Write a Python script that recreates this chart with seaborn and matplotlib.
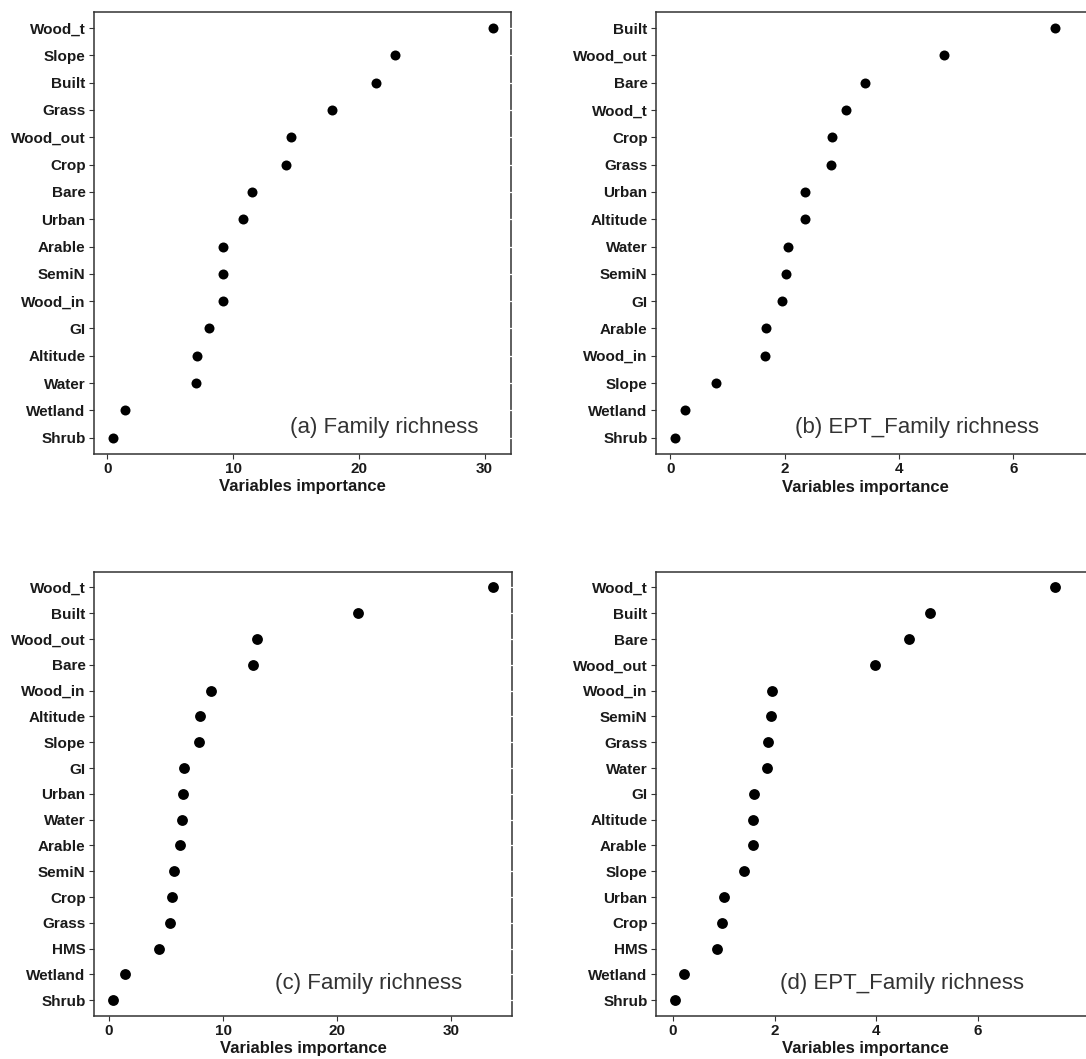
import matplotlib
matplotlib.use("Agg")
import matplotlib.pyplot as plt
import seaborn as sns
import pandas as pd

sns.set_theme(style="white")
plt.rcParams['font.family'] = ['Liberation Sans', 'DejaVu Sans']

# Panel (a) Family richness
a_vars = ["Wood_t", "Slope", "Built", "Grass", "Wood_out", "Crop", "Bare", "Urban",
          "Arable", "SemiN", "Wood_in", "GI", "Altitude", "Water", "Wetland", "Shrub"]
a_vals = [30.63, 22.9, 21.34, 17.87, 14.64, 14.19, 11.52, 10.75,
          9.21, 9.21, 9.21, 8.08, 7.10, 7.02, 1.40, 0.42]

# Panel (b) EPT_Family richness
b_vars = ["Built", "Wood_out", "Bare", "Wood_t", "Crop", "Grass", "Urban", "Altitude",
          "Water", "SemiN", "GI", "Arable", "Wood_in", "Slope", "Wetland", "Shrub"]
b_vals = [6.72, 4.78, 3.41, 3.07, 2.82, 2.81, 2.35, 2.35,
          2.06, 2.03, 1.96, 1.68, 1.65, 0.80, 0.26, 0.08]

# Panel (c) Family richness
c_vars = ["Wood_t", "Built", "Wood_out", "Bare", "Wood_in", "Altitude", "Slope", "GI",
          "Urban", "Water", "Arable", "SemiN", "Crop", "Grass", "HMS", "Wetland", "Shrub"]
c_vals = [33.61, 21.82, 12.93, 12.58, 8.94, 7.95, 7.92, 6.58,
          6.52, 6.41, 6.20, 5.74, 5.53, 5.39, 4.43, 1.40, 0.38]

# Panel (d) EPT_Family richness
d_vars = ["Wood_t", "Built", "Bare", "Wood_out", "Wood_in", "SemiN", "Grass", "Water",
          "GI", "Altitude", "Arable", "Slope", "Urban", "Crop", "HMS", "Wetland", "Shrub"]
d_vals = [7.52, 5.06, 4.65, 3.97, 1.95, 1.93, 1.88, 1.86,
          1.60, 1.57, 1.57, 1.39, 1.01, 0.96, 0.87, 0.23, 0.04]

titles = ["(a) Family richness", "(b) EPT_Family richness",
          "(c) Family richness", "(d) EPT_Family richness"]
ticks = [[0, 10, 20, 30], [0, 2, 4, 6], [0, 10, 20, 30], [0, 2, 4, 6]]

W, H = 1086, 1059
fig = plt.figure(figsize=(W / 100, H / 100), dpi=100)

def px_axes(l, t, r, b):
    return fig.add_axes([l / W, 1 - b / H, (r - l) / W, (b - t) / H])

panels = [
    dict(vars=a_vars, vals=a_vals, box=(94, 11.7, 511, 454), xlim=(-1.06, 32.1),
         size=7.2, tx=29.5, ty=0.047, lblx=None),
    dict(vars=b_vars, vals=b_vals, box=(656, 11.7, 1090, 454), xlim=(-0.25, 7.34),
         size=7.2, tx=6.44, ty=0.047, lblx=865),
    dict(vars=c_vars, vals=c_vals, box=(94, 572, 512, 1015.7), xlim=(-1.3, 35.3),
         size=7.8, tx=30.9, ty=0.06, lblx=None),
    dict(vars=d_vars, vals=d_vals, box=(656, 572, 1090, 1015.7), xlim=(-0.33, 8.2),
         size=7.8, tx=6.9, ty=0.06, lblx=865),
]

for p, title, tk in zip(panels, titles, ticks):
    ax = px_axes(*p["box"])
    df = pd.DataFrame({"var": p["vars"], "imp": p["vals"]})
    sns.stripplot(data=df, x="imp", y="var", order=p["vars"], jitter=False,
                  color="black", size=p["size"], linewidth=0, ax=ax)
    n = len(p["vars"])
    ax.set_ylim(n - 1 + 0.6, -0.6)
    ax.set_xlim(*p["xlim"])
    ax.set_xticks(tk)
    ax.set_xticklabels([str(t) for t in tk])
    ax.set_ylabel("")
    ax.set_xlabel("Variables importance", fontsize=12, fontweight="bold",
                  color="#1a1a1a", labelpad=2)
    if p["lblx"] is not None:
        l, t, r, b = p["box"]
        ax.xaxis.set_label_coords((p["lblx"] - l) / (r - l), -0.058)
    for s in ax.spines.values():
        s.set_visible(True)
        s.set_color("#333333")
        s.set_linewidth(1.1)
    ax.tick_params(axis="both", which="major", direction="out", length=3.5,
                   width=0.8, color="#333333", labelsize=11, labelcolor="#1a1a1a",
                   pad=2.5, left=True, bottom=True)
    ax.tick_params(axis="y", right=True, labelright=False)
    ax.set_axisbelow(False)
    for t in ax.yaxis.get_major_ticks():
        t.tick2line.set_marker("_")
        t.tick2line.set_markersize(3.5)
        t.tick2line.set_markeredgewidth(0.9)
        t.tick2line.set_markeredgecolor("white")
        t.tick2line.set_color("white")
    for lab in ax.get_xticklabels() + ax.get_yticklabels():
        lab.set_fontweight("bold")
    ax.grid(False)
    ax.set_facecolor("white")
    ax.text(p["tx"], p["ty"], title, transform=ax.get_xaxis_transform(),
            ha="right", va="baseline", fontsize=16, color="#333333")

fig.savefig("out.png", dpi=100, facecolor="white")
